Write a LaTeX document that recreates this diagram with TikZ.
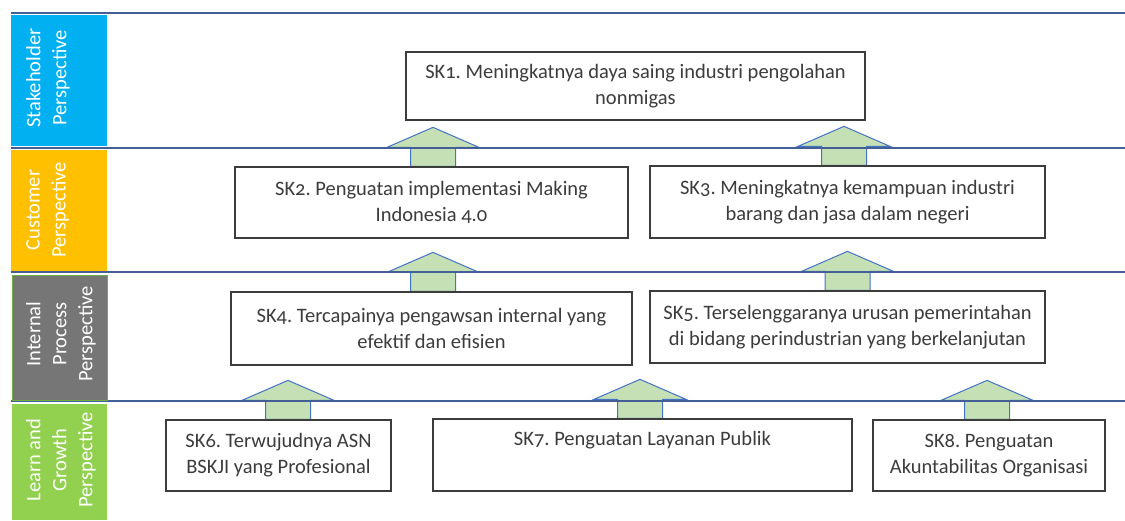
\documentclass[tikz,border=0pt]{standalone}
\usepackage{fontspec}
\setmainfont{Carlito}[Numbers=OldStyle]
\usetikzlibrary{calc}
\frenchspacing
\definecolor{linec}{RGB}{68,95,150}
\definecolor{arrfill}{RGB}{197,224,180}
\definecolor{arredge}{RGB}{68,114,196}
\definecolor{txtc}{RGB}{60,60,60}
\definecolor{stakec}{RGB}{0,176,240}
\definecolor{custc}{RGB}{255,192,0}
\definecolor{intc}{RGB}{118,118,118}
\definecolor{intedge}{RGB}{112,173,71}
\definecolor{learnc}{RGB}{146,208,80}
\newcommand\skarrow[2]{\draw[upblock] ($(#1.north)+(#2-22.5,0)$) -- ++(0,-19) -- ++(-23.5,0) -- ++(46,-20) -- ++(46,20) -- ++(-23.5,0) -- ++(0,19) -- cycle;}
\begin{document}
\begin{tikzpicture}[x=1pt,y=-1pt,
 every node/.style={font=\fontsize{20.5}{26}\selectfont},
 skbox/.style={draw=txtc, line width=1.3pt, fill=white, text=txtc, align=center, inner sep=0pt},
 barbox/.style={inner sep=0pt, minimum width=96pt},
 sidelabel/.style={text=white, align=center, rotate=90, inner sep=0pt, anchor=north},
 upblock/.style={fill=arrfill, draw=arredge, line width=1pt, line join=miter},
 band/.style={draw=linec, line width=1.6pt}]
\useasboundingbox (0,0) rectangle (1125,520);

% boxes (positions first, for the arrows)
\node[skbox, minimum width=459pt, minimum height=68pt] (sk1) at (635.5,86) {SK1. Meningkatnya daya saing industri pengolahan\\nonmigas};
\node[skbox, minimum width=393pt, minimum height=71pt] (sk2) at (431.5,202.5) {SK2. Penguatan implementasi Making\\Indonesia 4.0};
\node[skbox, minimum width=395pt, minimum height=72pt] (sk3) at (847.5,202) {SK3. Meningkatnya kemampuan industri\\barang dan jasa dalam negeri};
\node[skbox, minimum width=401pt, minimum height=73pt] (sk4) at (431.5,328.5) {SK4. Tercapainya pengawsan internal yang\\efektif dan efisien};
\node[skbox, minimum width=395pt, minimum height=72pt] (sk5) at (847.5,327) {SK5. Terselenggaranya urusan pemerintahan\\di bidang perindustrian yang berkelanjutan};
\node[skbox, minimum width=225pt, minimum height=71pt] (sk6) at (278.5,455.5) {SK6. Terwujudnya ASN\\BSKJI yang Profesional};
\node[skbox, minimum width=419pt, minimum height=72pt] (sk7) at (642.5,455) {SK7. Penguatan Layanan Publik\\\strut};
\node[skbox, minimum width=232pt, minimum height=71pt] (sk8) at (989,455.5) {SK8. Penguatan\\Akuntabilitas Organisasi};

% block arrows
\skarrow{sk2}{1.5}
\skarrow{sk3}{-3.5}
\skarrow{sk4}{1.5}
\skarrow{sk5}{0}
\skarrow{sk6}{9.5}
\skarrow{sk7}{-2.5}
\skarrow{sk8}{-2}

% perspective lines
\coordinate (l1a) at (11,13);  \coordinate (l1b) at (1125,13);
\coordinate (l2a) at (11,148); \coordinate (l2b) at (1125,148);
\coordinate (l3a) at (11,272); \coordinate (l3b) at (1125,272);
\coordinate (l4a) at (11,401); \coordinate (l4b) at (1125,401);
\draw[band] (l1a) -- (l1b);
\draw[band] (l2a) -- (l2b);
\draw[band] (l3a) -- (l3b);
\draw[band] (l4a) -- (l4b);

% redraw box borders on top of the arrows' bottoms
\foreach \n in {sk1,sk2,sk3,sk4,sk5,sk6,sk7,sk8} {\draw[txtc, line width=1.3pt] (\n.south west) rectangle (\n.north east);}

% side bars
\node[barbox, fill=stakec, minimum height=131pt] (bstake) at (59,80.5) {};
\node[barbox, fill=custc, minimum height=121pt] (bcust) at (58.5,210.5) {};
\node[barbox, fill=intc, draw=intedge, line width=0.8pt, minimum width=95pt, minimum height=125pt] (bint) at (59.5,337.5) {};
\node[barbox, fill=learnc, minimum width=95pt, minimum height=116pt] (blearn) at (59.5,462) {};

\node[sidelabel] (lstake) at (26,78) {Stakeholder\\Perspective};
\node[sidelabel] (lcust) at (26,210) {Customer\\Perspective};
\node[sidelabel] (lint) at (26,334) {Internal\\Process\\Perspective};
\node[sidelabel] (llearn) at (26,460) {Learn and\\Growth\\Perspective};
\end{tikzpicture}
\end{document}
